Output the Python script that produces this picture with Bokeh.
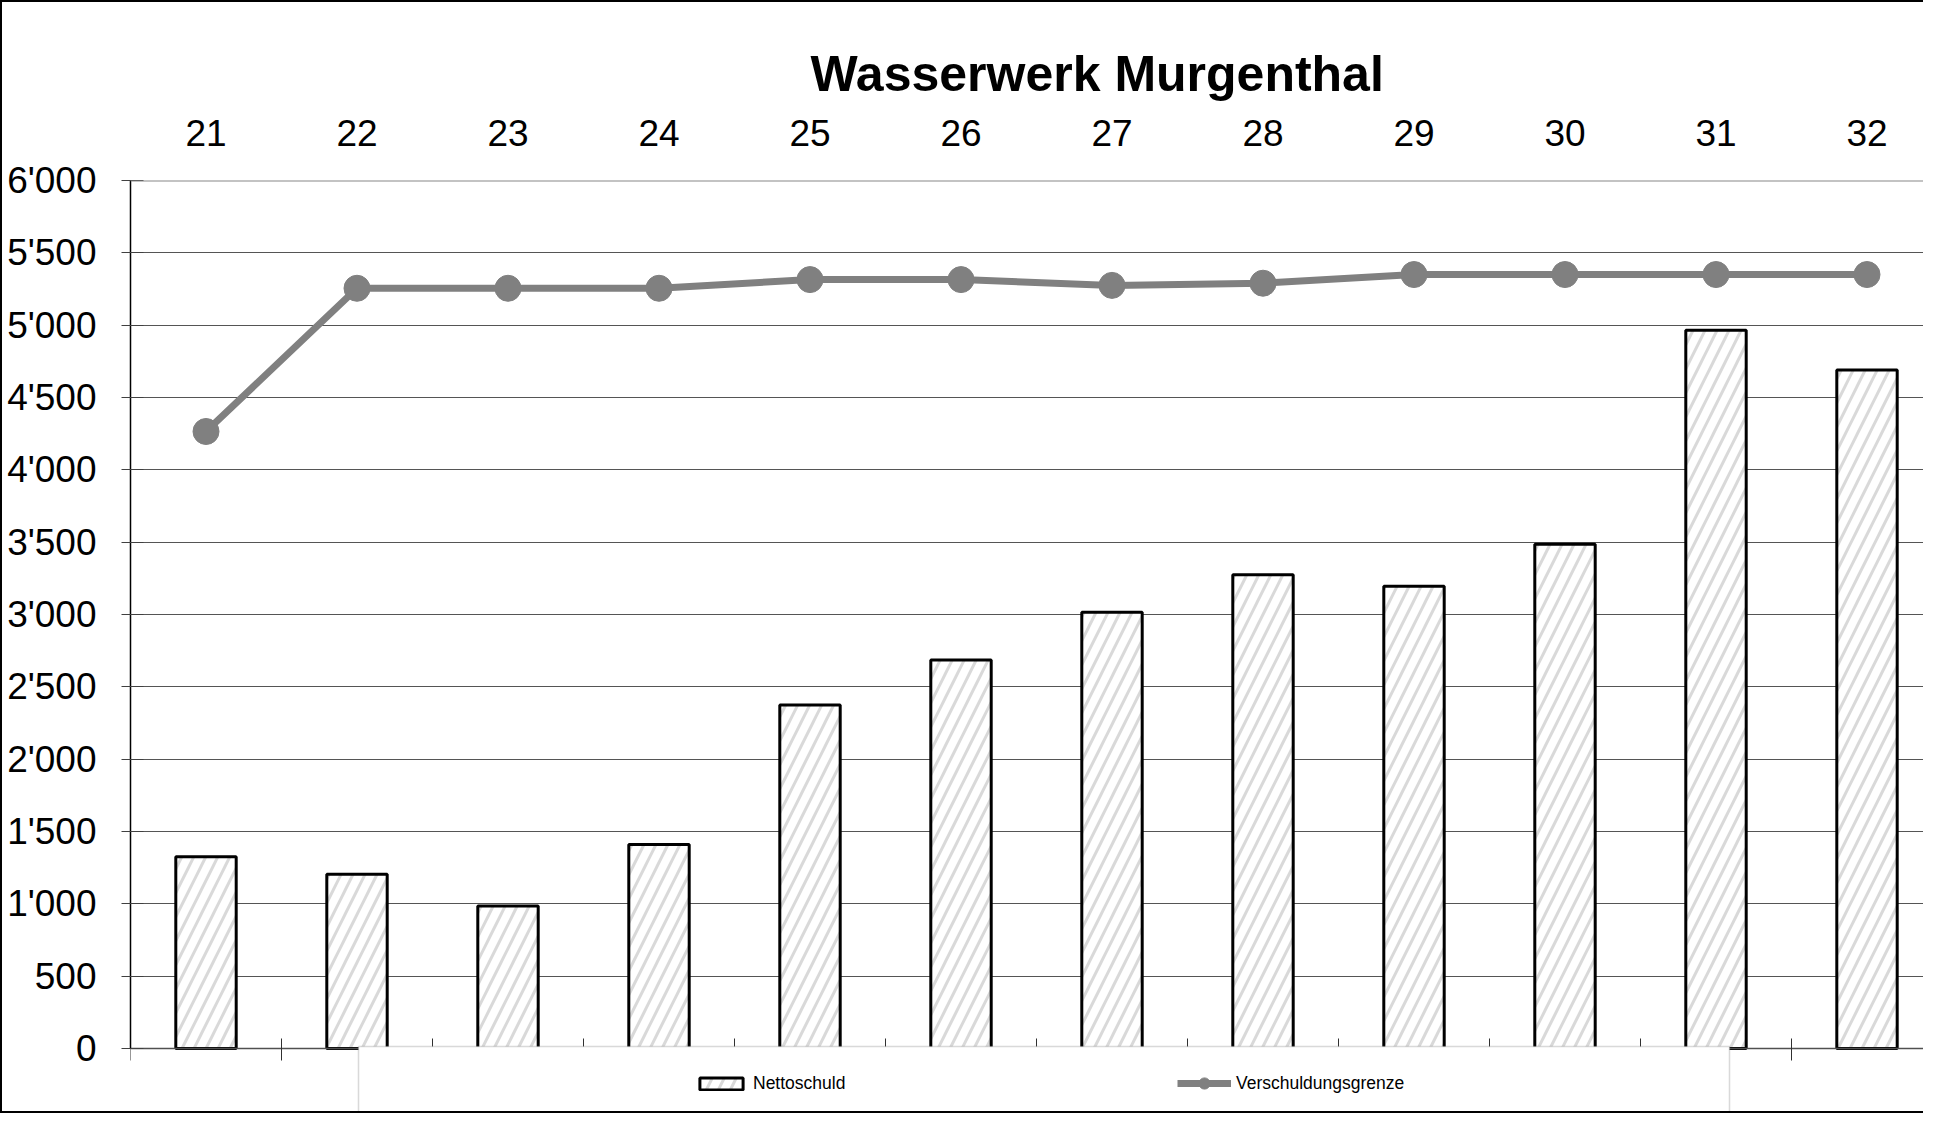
import numpy as np
from bokeh.plotting import figure
from bokeh.models import (Range1d, LinearAxis, FixedTicker, Span, Legend, LegendItem,
                          BoxAnnotation, ColumnDataSource)
from bokeh.embed import file_html
from bokeh.resources import INLINE

# ---- data ----
years = ["21", "22", "23", "24", "25", "26", "27", "28", "29", "30", "31", "32"]
nettoschuld = [1325, 1205, 985, 1410, 2375, 2685, 3015, 3275, 3195, 3485, 4965, 4690]
grenze = [4265, 5255, 5255, 5255, 5315, 5315, 5275, 5290, 5350, 5350, 5350, 5350]
y_ticks = list(range(0, 6001, 500))
y_labels = {t: f"{t:,}".replace(",", "'") for t in y_ticks}

FONT = "Liberation Sans"
W, H = 1923, 1113          # content size (2px border left/top/bottom added by CSS)
FRAME_L = 128
FRAME_T = 178
CAT_W = 151                # px per category
PX_ZERO_TO_TOP = 868       # px from value 0 to 6000
x_end = (W - FRAME_L) / CAT_W
frame_h = H - FRAME_T
y_start = -6000 * (frame_h - PX_ZERO_TO_TOP) / PX_ZERO_TO_TOP

centers = [i + 0.5 for i in range(len(years))]
src = ColumnDataSource(dict(x=centers, year=years, netto=nettoschuld, grenze=grenze))

p = figure(width=W, height=H, x_range=Range1d(0, x_end), y_range=Range1d(y_start, 6000),
           output_backend="svg", toolbar_location=None,
           min_border_left=FRAME_L, min_border_right=0, min_border_top=FRAME_T, min_border_bottom=0,
           background_fill_color="white", border_fill_color="white", outline_line_color=None)
p.styles = {"border-left": "2px solid #000", "border-top": "2px solid #000",
            "border-bottom": "2px solid #000"}

# title
p.title.text = "Wasserwerk Murgenthal"
p.title.align = "left"
p.title.offset = 680
p.title.standoff = 30
p.title.text_font = FONT
p.title.text_font_size = "50px"
p.title.text_font_style = "bold"
p.title.text_color = "black"

# grid
p.xgrid.visible = False
p.ygrid.grid_line_color = "#555555"
p.ygrid.grid_line_width = 1

# left axis
ya = p.yaxis[0]
ya.ticker = FixedTicker(ticks=y_ticks)
ya.bounds = (0, 6000)
ya.major_label_overrides = y_labels
ya.major_label_text_font = FONT
ya.major_label_text_font_size = "37px"
ya.major_label_text_color = "black"
ya.major_label_standoff = 25
ya.major_tick_in = 13
ya.major_tick_out = 9
ya.major_tick_line_color = "#404040"
ya.minor_tick_line_color = None
ya.axis_line_color = "black"
ya.axis_line_width = 1.5

# bottom axis at value 0 (category boundaries, no labels)
bounds_ticks = list(range(0, len(years) + 1))
xb = p.below[0]
xb.fixed_location = 0
xb.ticker = FixedTicker(ticks=bounds_ticks)
xb.major_label_overrides = {t: "" for t in bounds_ticks}
xb.major_label_standoff = 0
xb.major_tick_in = 10
xb.major_tick_out = 12
xb.major_tick_line_color = "#303030"
xb.minor_tick_line_color = None
xb.axis_line_color = "#505050"
xb.axis_line_width = 1.5

# top axis with category labels
xt = LinearAxis(ticker=FixedTicker(ticks=centers),
                major_label_overrides={c: y for c, y in zip(centers, years)})
xt.major_label_text_font = FONT
xt.major_label_text_font_size = "37px"
xt.major_label_text_color = "black"
xt.major_label_standoff = 29
xt.major_tick_line_color = None
xt.minor_tick_line_color = None
xt.axis_line_color = None
p.add_layout(xt, "above")

# top gray line
p.add_layout(Span(location=6000, dimension="width", line_color="#888888", line_width=2))

# bars
bars = p.vbar(x="x", top="netto", width=0.4, source=src, fill_color="white",
              hatch_pattern="/", hatch_color="#d9d9d9", hatch_scale=24, hatch_weight=3,
              line_color="black", line_width=3)

# line + markers
ln = p.line(x="x", y="grenze", source=src, line_color="#808080", line_width=7)
sc = p.scatter(x="x", y="grenze", source=src, size=26, marker="circle",
               fill_color="#808080", line_color="#808080")

# legend box (screen px relative to the frame's bottom-left)
box = BoxAnnotation(left=228, right=1599, top=69, bottom=2,
                    left_units="screen", right_units="screen",
                    top_units="screen", bottom_units="screen",
                    fill_color="white", fill_alpha=1.0,
                    line_color="#808080", line_width=1.5)
p.add_layout(box)

common = dict(orientation="horizontal", padding=0, margin=0, spacing=0,
              glyph_width=54, label_standoff=5, label_text_font=FONT,
              label_text_font_size="17.5px", label_text_color="black",
              background_fill_alpha=0, border_line_color=None)
legend1 = Legend(items=[LegendItem(label="Nettoschuld", renderers=[bars])],
                 location=(564, 21), glyph_height=15, **common)
legend2 = Legend(items=[LegendItem(label="Verschuldungsgrenze", renderers=[ln, sc])],
                 location=(1047, 18), glyph_height=28, **common)
p.add_layout(legend1, "center")
p.add_layout(legend2, "center")

open("out.html", "w").write(file_html(p, INLINE))
